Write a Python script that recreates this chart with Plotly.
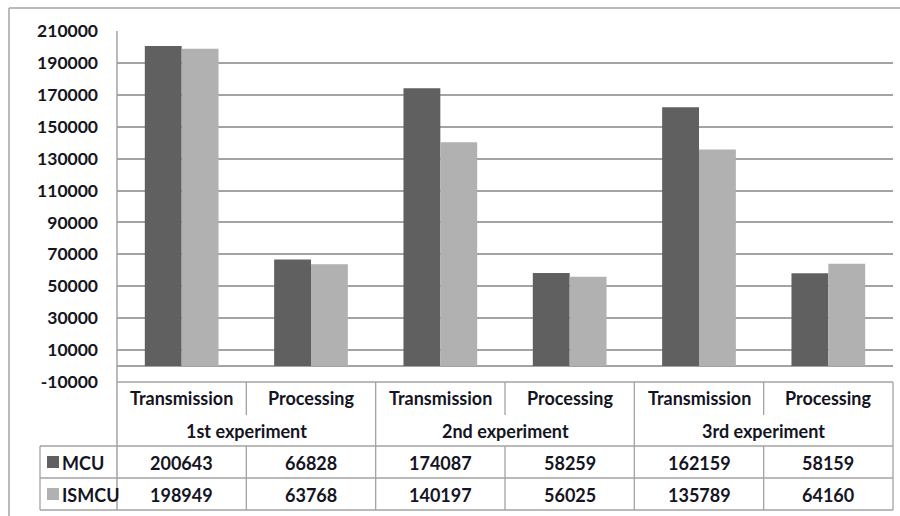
import plotly.graph_objects as go

# ---- data ----
experiments = ["1st experiment", "2nd experiment", "3rd experiment"]
phases = ["Transmission", "Processing"]
series_names = ["MCU", "ISMCU"]
mcu_values = [200643, 66828, 174087, 58259, 162159, 58159]
ismcu_values = [198949, 63768, 140197, 56025, 135789, 64160]
series_colors = ["#606060", "#b1b1b1"]
y_ticks = [-10000, 10000, 30000, 50000, 70000, 90000, 110000,
           130000, 150000, 170000, 190000, 210000]

# ---- geometry (pixels in a 900x516 canvas) ----
W, H = 900, 516
PL, PR, PT, PB = 117, 893, 31, 382  # plot area edges


def px(x):
    return (x - PL) / (PR - PL)


def py(y):
    return (PB - y) / (PB - PT)


FONT = "Lato"
TXT = "#15151f"
LINE = "#a3a3a3"
TABLE_SIZE = 18

n_cat = len(mcu_values)
xs = list(range(n_cat))

fig = go.Figure()
for name, vals, col in zip(series_names, [mcu_values, ismcu_values], series_colors):
    fig.add_trace(go.Bar(x=xs, y=vals, name=name, marker=dict(color=col, line=dict(width=0)),
                         showlegend=False, hoverinfo="y"))

fig.update_layout(
    width=W, height=H,
    margin=dict(l=PL, r=W - PR, t=PT, b=H - PB, pad=0),
    paper_bgcolor="white", plot_bgcolor="white",
    barmode="group", bargap=0.43, bargroupgap=0.0,
    font=dict(family=FONT, color=TXT),
    xaxis=dict(range=[-0.5, n_cat - 0.5], showticklabels=False, showgrid=False,
               zeroline=False, ticks="", fixedrange=True),
    yaxis=dict(range=[y_ticks[0], y_ticks[-1]], tickmode="array", tickvals=y_ticks,
               ticktext=[str(v) for v in y_ticks], showgrid=True,
               gridcolor=LINE, gridwidth=1.5, zeroline=True, zerolinecolor=LINE,
               zerolinewidth=1.5, showline=False, ticks="", ticklabelstandoff=18,
               tickfont=dict(family=FONT, size=17.5, color=TXT, weight="bold"),
               fixedrange=True),
)

shapes = []


def hline(y, x0, x1, w=1.3):
    shapes.append(dict(type="line", xref="paper", yref="paper", x0=px(x0), x1=px(x1),
                       y0=py(y), y1=py(y), line=dict(color=LINE, width=w)))


def vline(x, y0, y1, w=1.3):
    shapes.append(dict(type="line", xref="paper", yref="paper", x0=px(x), x1=px(x),
                       y0=py(y0), y1=py(y1), line=dict(color=LINE, width=w)))


# outer chart frame (left and top edges)
vline(9, 8, H + 5, 1.5)
hline(8, 9, W + 5, 1.5)

# value axis line running down through the data table
vline(PL, PT, 510, 1.5)

# data table grid
cat_w = (PR - PL) / n_cat
row_top, row_cat_sep, row_exp, row_mcu, row_ism = 382, 415, 446, 478, 510
leg_left = 40
hline(row_top, PL, PR)
hline(row_exp, leg_left, PR)
hline(row_mcu, leg_left, PR)
hline(row_ism, leg_left, PR)
vline(leg_left, row_exp, row_ism)
for k in range(1, n_cat + 1):
    x = PL + k * cat_w
    if k % 2 == 0:
        vline(x, row_top, row_ism)
    else:
        vline(x, row_top, row_cat_sep)
        vline(x, row_exp, row_ism)

# legend keys in the table's row headers
for i, col in enumerate(series_colors):
    cy = (row_exp + row_mcu) / 2 if i == 0 else (row_mcu + row_ism) / 2
    shapes.append(dict(type="rect", xref="paper", yref="paper", x0=px(47), x1=px(59),
                       y0=py(cy + 6), y1=py(cy - 6), fillcolor=col, line=dict(width=0)))

annotations = []


def label(text, x, y, anchor="center"):
    annotations.append(dict(text=text, xref="paper", yref="paper", x=px(x), y=py(y),
                            xanchor=anchor, yanchor="middle", showarrow=False,
                            font=dict(family=FONT, size=TABLE_SIZE, color=TXT, weight="bold")))


for k in range(n_cat):
    cx = PL + (k + 0.5) * cat_w
    label(phases[k % 2], cx, 398)
    label(f"{mcu_values[k]}", cx, (row_exp + row_mcu) / 2 + 1)
    label(f"{ismcu_values[k]}", cx, (row_mcu + row_ism) / 2 + 1)
for j, exp in enumerate(experiments):
    cx = PL + (2 * j + 1) * cat_w
    label(exp, cx, 431)

label(series_names[0], 60, (row_exp + row_mcu) / 2 + 1, "left")
label(series_names[1], 60, (row_mcu + row_ism) / 2 + 1, "left")

fig.update_layout(shapes=shapes, annotations=annotations)
fig.write_html("out.html")
